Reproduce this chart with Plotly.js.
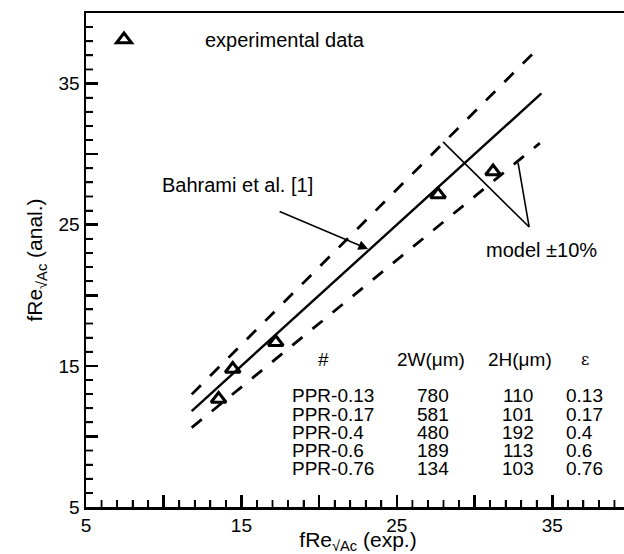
<!DOCTYPE html>
<html>
<head>
<meta charset="utf-8">
<script src="https://cdn.plot.ly/plotly-3.0.1.min.js"></script>
<style>
html, body { margin: 0; padding: 0; overflow: hidden; background: #fff; }
#chart { width: 632px; height: 554px; }
</style>
</head>
<body>
<div id="chart"></div>
<script>
// ---- data ----
const expX = [13.53, 14.44, 17.21, 27.65, 31.19];   // fRe (exp.)
const analY = [12.65, 14.78, 16.67, 27.14, 28.77];  // fRe (anal.)
const modelX = [11.8, 34.3];
const modelY = [11.8, 34.3];
const upperX = [11.8, 33.8];
const upperY = [12.98, 37.18];   // model +10%
const lowerX = [11.8, 34.2];
const lowerY = [10.62, 30.78];   // model -10%

const tickValues = [5, 10, 15, 20, 25, 30, 35, 40];
const tickLabels = ['5', ' ', '15', ' ', '25', ' ', '35', ' '];
const minorStep = 1;
const axisRange = [5, 40];

const tableHeader = ['#', '2W(μm)', '2H(μm)', 'ε'];
const channels = ['PPR-0.13', 'PPR-0.17', 'PPR-0.4', 'PPR-0.6', 'PPR-0.76'];
const width2W = ['780', '581', '480', '189', '134'];
const height2H = ['110', '101', '192', '113', '103'];
const epsilon = ['0.13', '0.17', '0.4', '0.6', '0.76'];

// annotation anchor points (data coordinates)
const bahramiText = [14.72, 27.82];
const bahramiArrowTail = [17.36, 25.98];
const bahramiArrowTip = [23.15, 23.28];
const modelApex = [33.51, 24.84];
const modelTipUpper = [27.97, 30.87];
const modelTipLower = [32.8, 29.38];
const modelText = [34.3, 23.2];

// ---- layout helpers ----
const W = 632, H = 554;
const M = { l: 86, r: 2, t: 13, b: 47 };
const PW = W - M.l - M.r, PH = H - M.t - M.b;
const px2x = px => (px - M.l) / PW;
const py2y = py => (H - M.b - py) / PH;

const FONT = 'Liberation Sans, Arial, Helvetica, sans-serif';
const black = '#000';
const DASH = '13px,13px';

const traces = [
  {
    x: upperX, y: upperY, mode: 'lines', showlegend: false, hoverinfo: 'skip',
    line: { color: black, width: 2.8, dash: DASH }
  },
  {
    x: lowerX, y: lowerY, mode: 'lines', showlegend: false, hoverinfo: 'skip',
    line: { color: black, width: 2.8, dash: DASH }
  },
  {
    x: modelX, y: modelY, mode: 'lines', showlegend: false, hoverinfo: 'skip',
    line: { color: black, width: 2.4 }
  },
  {
    x: expX, y: analY, mode: 'markers', name: 'experimental data',
    marker: { symbol: 'triangle-up-open', size: 13, color: black, line: { color: black, width: 3 } }
  }
];

const annotations = [];
const textFont = { family: FONT, size: 20, color: black };

annotations.push({
  x: bahramiText[0], y: bahramiText[1], xref: 'x', yref: 'y',
  text: 'Bahrami et al. [1]', showarrow: false, font: textFont,
  xanchor: 'center', yanchor: 'middle'
});
annotations.push({
  x: bahramiArrowTip[0], y: bahramiArrowTip[1], xref: 'x', yref: 'y',
  ax: bahramiArrowTail[0], ay: bahramiArrowTail[1], axref: 'x', ayref: 'y',
  text: '', showarrow: true, arrowhead: 2, arrowsize: 1.3, arrowwidth: 1.5, arrowcolor: black
});
annotations.push({
  x: modelText[0], y: modelText[1], xref: 'x', yref: 'y',
  text: 'model ±10%', showarrow: false, font: textFont,
  xanchor: 'center', yanchor: 'middle'
});

// table
const tableFont = { family: FONT, size: 19, color: black };
const headerX = [323, 431, 520, 585];
const headerY = 359;
tableHeader.forEach((h, i) => {
  annotations.push({
    x: px2x(headerX[i]), y: py2y(headerY), xref: 'paper', yref: 'paper',
    text: h, showarrow: false, xanchor: 'center', yanchor: 'middle',
    font: i === 3 ? { family: 'DejaVu Serif, serif', size: 16, color: black } : tableFont
  });
});
const rowY0 = 396, rowStep = 18;
channels.forEach((c, r) => {
  const py = py2y(rowY0 + r * rowStep);
  const common = { xref: 'paper', yref: 'paper', showarrow: false, yanchor: 'middle',
                   font: tableFont, borderpad: 0 };
  annotations.push(Object.assign({ x: px2x(291), y: py, text: c, xanchor: 'left' }, common));
  annotations.push(Object.assign({ x: px2x(433), y: py, text: width2W[r], xanchor: 'center' }, common));
  annotations.push(Object.assign({ x: px2x(518), y: py, text: height2H[r], xanchor: 'center' }, common));
  annotations.push(Object.assign({ x: px2x(565), y: py, text: epsilon[r], xanchor: 'left' }, common));
});

const shapes = [
  { type: 'line', xref: 'x', yref: 'y', x0: modelApex[0], y0: modelApex[1],
    x1: modelTipUpper[0], y1: modelTipUpper[1], line: { color: black, width: 1.6 } },
  { type: 'line', xref: 'x', yref: 'y', x0: modelApex[0], y0: modelApex[1],
    x1: modelTipLower[0], y1: modelTipLower[1], line: { color: black, width: 1.6 } }
];

// minor ticks (every unit, inside): drawn as short segments placed through the axis scales
const minorFrac = 7 / PH;       // tick length as a fraction of the plot height
const minorFracX = 7 / PW;      // tick length as a fraction of the plot width
for (let v = axisRange[0] + minorStep; v < axisRange[1]; v += minorStep) {
  if (tickValues.includes(v)) continue;
  shapes.push({ type: 'line', xref: 'x', yref: 'paper',
    x0: v, x1: v, y0: 0, y1: minorFrac, line: { color: black, width: 1.8 }, layer: 'above' });
  shapes.push({ type: 'line', yref: 'y', xref: 'paper',
    y0: v, y1: v, x0: 0, x1: minorFracX, line: { color: black, width: 1.8 }, layer: 'above' });
}

function axis(titleText, standoff) {
  return {
    range: axisRange, showgrid: false, zeroline: false,
    showline: true, mirror: true, linecolor: black, linewidth: 2.5,
    tickmode: 'array', tickvals: tickValues, ticktext: tickLabels,
    ticks: 'inside', ticklen: 12, tickwidth: 2.5, tickcolor: black,
    tickfont: { family: FONT, size: 19, color: black },
    minor: { tickmode: 'linear', tick0: axisRange[0], dtick: minorStep, ticks: 'inside',
             ticklen: 7, tickwidth: 1.8, tickcolor: black, showgrid: false },
    title: { text: titleText, font: { family: FONT, size: 21, color: black }, standoff: standoff },
    fixedrange: true
  };
}

const layout = {
  width: W, height: H,
  margin: M,
  paper_bgcolor: '#fff', plot_bgcolor: '#fff',
  font: { family: FONT, color: black },
  xaxis: axis('fRe<sub>√Ac</sub> (exp.)', 9),
  yaxis: axis('fRe<sub>√Ac</sub> (anal.)', 10),
  showlegend: true,
  legend: {
    x: px2x(43), y: py2y(20), xanchor: 'left', yanchor: 'top',
    bgcolor: 'rgba(0,0,0,0)', borderwidth: 0,
    itemwidth: 152,
    font: { family: FONT, size: 20, color: black }
  },
  annotations: annotations,
  shapes: shapes
};

Plotly.newPlot('chart', traces, layout, { staticPlot: true, displayModeBar: false });
</script>
</body>
</html>
